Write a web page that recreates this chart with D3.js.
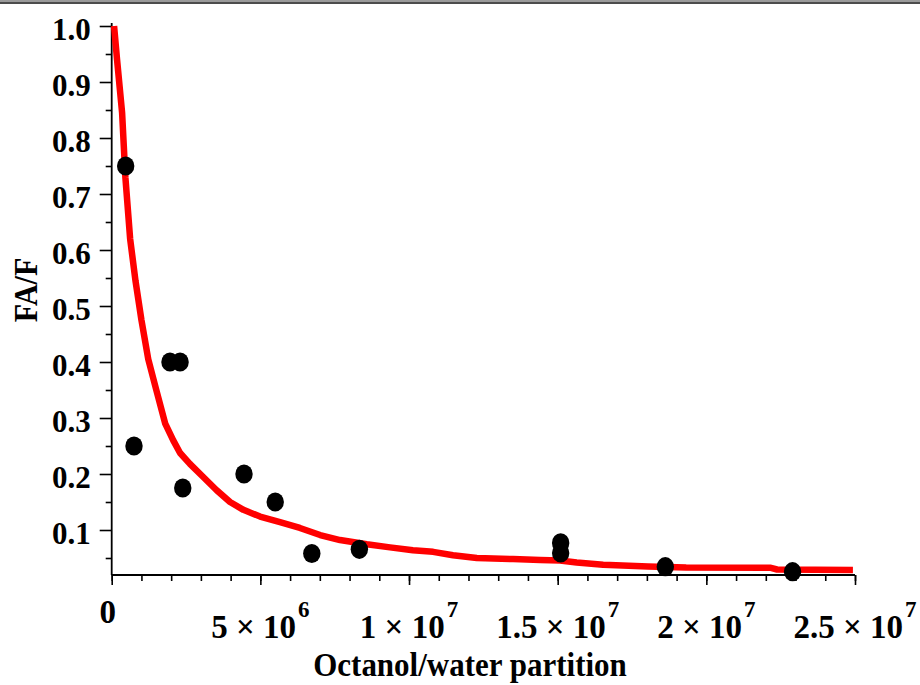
<!DOCTYPE html>
<html>
<head>
<meta charset="utf-8">
<script src="https://cdn.jsdelivr.net/npm/d3@7"></script>
<style>
  html, body { margin: 0; padding: 0; background: #fff; }
  svg { display: block; }
  text { font-family: "Liberation Serif", "Times New Roman", serif; font-weight: bold; fill: #000; }
</style>
</head>
<body>
<svg id="chart" width="920" height="685"></svg>
<script>
// ---- data ----
const pointX = [0.47e6, 0.75e6, 1.96e6, 2.30e6, 2.39e6, 4.45e6, 5.50e6, 6.73e6, 8.33e6, 15.1e6, 15.1e6, 18.62e6, 22.9e6];
const pointY = [0.75, 0.25, 0.40, 0.40, 0.175, 0.20, 0.15, 0.058, 0.0655, 0.077, 0.059, 0.0345, 0.0256];

const curveX = [0.08e6, 0.18e6, 0.35e6, 0.46e6, 0.62e6, 0.80e6, 1.00e6, 1.23e6, 1.50e6, 1.80e6, 2.07e6, 2.30e6, 2.63e6,
  3.07e6, 3.53e6, 3.98e6, 4.43e6, 4.99e6, 5.66e6, 6.33e6, 7.01e6, 7.68e6, 8.58e6, 9.36e6, 10.13e6, 10.81e6, 11.48e6,
  12.28e6, 13.50e6, 14.41e6, 15.08e6, 15.64e6, 16.53e6, 18.04e6, 19.32e6, 22.14e6, 22.38e6, 24.93e6];
const curveY = [1.00, 0.94, 0.845, 0.73, 0.62, 0.545, 0.475, 0.405, 0.35, 0.29, 0.26, 0.2375, 0.218,
  0.195, 0.171, 0.150, 0.136, 0.124, 0.114, 0.1036, 0.091, 0.082, 0.0745, 0.069, 0.064, 0.061, 0.055,
  0.050, 0.048, 0.0464, 0.0455, 0.042, 0.038, 0.035, 0.033, 0.0327, 0.0295, 0.0286];

const xTickValues = [0, 5e6, 1e7, 1.5e7, 2e7, 2.5e7];
const xTickMantissa = ["0", "5", "1", "1.5", "2", "2.5"];
const xTickExponent = ["", "6", "7", "7", "7", "7"];
const xMinorStep = 1e6;
const yTickValues = [0.1, 0.2, 0.3, 0.4, 0.5, 0.6, 0.7, 0.8, 0.9, 1.0];
const yTickLabels = ["0.1", "0.2", "0.3", "0.4", "0.5", "0.6", "0.7", "0.8", "0.9", "1.0"];
const yMinorValues = [0.05, 0.15, 0.25, 0.35, 0.45, 0.55, 0.65, 0.75, 0.85, 0.95];
const xDomain = [0, 2.5e7];
const yAxisMin = 0.0196;
const xTitle = "Octanol/water partition";
const yTitle = "FA/F";

// ---- drawing ----
const svg = d3.select("#chart");
const x = d3.scaleLinear().domain(xDomain).range([111.7, 855]);
const y = d3.scaleLinear().domain([0, 1]).range([586, 26]);
const axisY0 = y(yAxisMin);

// top border
svg.append("line").attr("x1", 0).attr("x2", 920).attr("y1", 1).attr("y2", 1)
  .attr("stroke", "#9a9a9a").attr("stroke-width", 2);
svg.append("line").attr("x1", 0).attr("x2", 920).attr("y1", 3).attr("y2", 3)
  .attr("stroke", "#111").attr("stroke-width", 1.5);

// x axis ticks
const xMinor = d3.range(0, xDomain[1] + 1, xMinorStep);
const gx = svg.append("g").attr("transform", `translate(0,${axisY0})`);
gx.call(d3.axisBottom(x).tickValues(xMinor).tickSize(6).tickSizeOuter(0).tickFormat(""));
gx.append("g").call(d3.axisBottom(x).tickValues(xTickValues).tickSize(10).tickSizeOuter(0).tickFormat(""));
gx.selectAll("path.domain").remove();
gx.selectAll("line").attr("stroke", "#000").attr("stroke-width", 1.6);

// y axis ticks
const gy = svg.append("g").attr("transform", `translate(${x(0)},0)`);
gy.call(d3.axisLeft(y).tickValues(yMinorValues).tickSize(6).tickSizeOuter(0).tickFormat(""));
const gyMaj = gy.append("g").call(d3.axisLeft(y).tickValues(yTickValues).tickSize(12).tickPadding(9)
  .tickSizeOuter(0).tickFormat((d, i) => yTickLabels[i]));
gy.selectAll("path.domain").remove();
gy.selectAll("line").attr("stroke", "#000").attr("stroke-width", 1.6);
gyMaj.selectAll("text").attr("dy", "0.44em").style("font-size", "31px")
  .style("font-family", '"Liberation Serif", serif').style("font-weight", "bold");

// axis lines
svg.append("line").attr("x1", x(0)).attr("x2", x(xDomain[1]))
  .attr("y1", axisY0).attr("y2", axisY0).attr("stroke", "#000").attr("stroke-width", 1.8);
svg.append("line").attr("x1", x(0)).attr("x2", x(0))
  .attr("y1", axisY0).attr("y2", y(1) - 3).attr("stroke", "#000").attr("stroke-width", 1.8);

// x tick labels
xTickValues.forEach((v, i) => {
  if (xTickExponent[i] === "") {
    svg.append("text").attr("x", x(v) - 4).attr("y", 623).attr("text-anchor", "middle")
      .style("font-size", "33px").text(xTickMantissa[i]);
  } else {
    const t = svg.append("text").attr("x", x(v)).attr("y", 638).attr("text-anchor", "middle")
      .style("font-size", "33px");
    t.append("tspan").text(xTickMantissa[i] + " \u00d7 10");
    t.append("tspan").attr("dx", 2).attr("dy", -21).style("font-size", "23px").text(xTickExponent[i]);
  }
});

// titles
svg.append("text").attr("text-anchor", "middle")
  .attr("transform", "translate(470,676) scale(1,1.12)")
  .style("font-size", "31px").text(xTitle);
svg.append("text").attr("text-anchor", "middle")
  .attr("transform", "translate(37,290) rotate(-90) scale(1,1.15)")
  .style("font-size", "30px").text(yTitle);

// curve
const curvePts = curveX.map((v, i) => [v, curveY[i]]);
svg.append("path").datum(curvePts)
  .attr("d", d3.line().x(d => x(d[0])).y(d => y(d[1])))
  .attr("fill", "none").attr("stroke", "#ff0000").attr("stroke-width", 6.5)
  .attr("stroke-linejoin", "round");

// points
const pts = pointX.map((v, i) => [v, pointY[i]]);
svg.append("g").selectAll("ellipse").data(pts).join("ellipse")
  .attr("cx", d => x(d[0])).attr("cy", d => y(d[1]))
  .attr("rx", 8.7).attr("ry", 9.6).attr("fill", "#000");
</script>
</body>
</html>
